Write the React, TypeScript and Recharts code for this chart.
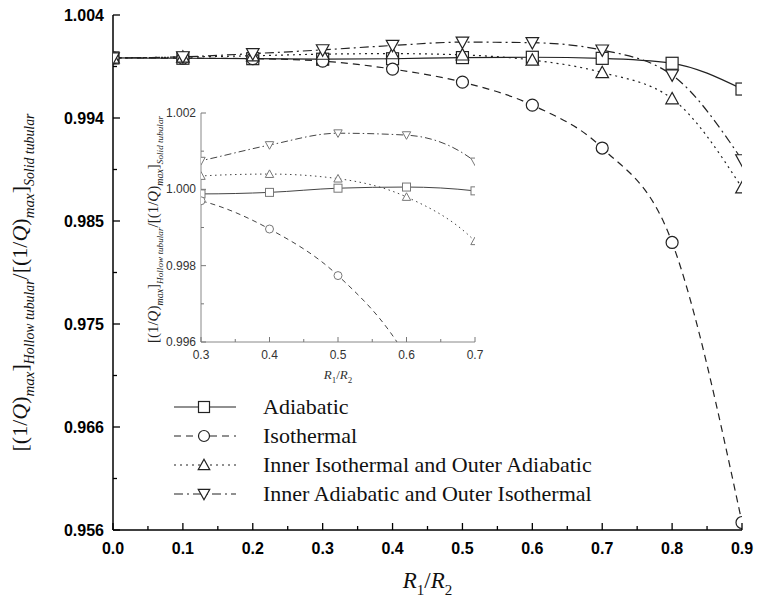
import React from 'react';
import { LineChart, Line, XAxis, YAxis, Legend, Label } from 'recharts';

const xValues = [0, 0.1, 0.2, 0.3, 0.4, 0.5, 0.6, 0.7, 0.8, 0.9];
const adiabatic = [1.0, 0.99997, 0.99993, 0.99988, 0.99992, 1.00003, 1.00006, 0.99996, 0.9995, 0.9971];
const isothermal = [1.0, 0.99998, 0.99993, 0.9997, 0.99896, 0.99774, 0.9956, 0.9916, 0.9828, 0.9567];
const innerIsoOuterAdi = [1.0, 1.00008, 1.0002, 1.00035, 1.0004, 1.00028, 0.9998, 0.99864, 0.9962, 0.9879];
const innerAdiOuterIso = [1.0, 1.0001, 1.0004, 1.00075, 1.00116, 1.00147, 1.00142, 1.00073, 0.9984, 0.9905];

const seriesNames = [
  'Adiabatic',
  'Isothermal',
  'Inner Isothermal and Outer Adiabatic',
  'Inner Adiabatic and Outer Isothermal',
];
const seriesKeys = ['a', 'iso', 'ii', 'ia'];
const seriesShapes = ['square', 'circle', 'up', 'down'];
const seriesDash = ['', '7 5', '2 4', '9 4 2 4'];
const insetDash = ['', '5 4', '1.5 3.5', '7 3 1.5 3'];

// main axis ticks
const xMajorTicks = [0, 0.1, 0.2, 0.3, 0.4, 0.5, 0.6, 0.7, 0.8, 0.9];
const xMinorTicks = [0.05, 0.15, 0.25, 0.35, 0.45, 0.55, 0.65, 0.75, 0.85];
const xTickLabels = ['0.0', '0.1', '0.2', '0.3', '0.4', '0.5', '0.6', '0.7', '0.8', '0.9'];
const yMajorTicks = [0.956, 0.9656, 0.9752, 0.9848, 0.9944, 1.004];
const yMinorTicks = [0.9608, 0.9704, 0.98, 0.9896, 0.9992];
const yTickLabels = ['0.956', '0.966', '0.975', '0.985', '0.994', '1.004'];

// inset axis ticks
const insetXMajor = [0.3, 0.4, 0.5, 0.6, 0.7];
const insetXMinor = [0.35, 0.45, 0.55, 0.65];
const insetXLabels = ['0.3', '0.4', '0.5', '0.6', '0.7'];
const insetYMajor = [0.996, 0.998, 1.0, 1.002];
const insetYMinor = [0.997, 0.999, 1.001];
const insetYLabels = ['0.996', '0.998', '1.000', '1.002'];

const rows = xValues.map((x, i) => ({
  x,
  a: adiabatic[i],
  iso: isothermal[i],
  ii: innerIsoOuterAdi[i],
  ia: innerAdiOuterIso[i],
}));

const SERIF = '"Liberation Serif", "Times New Roman", serif';
const SANS = '"Liberation Sans", Arial, sans-serif';

const near = (arr: number[], v: number) => arr.findIndex((t) => Math.abs(t - v) < 1e-7);

function Marker({ shape, cx, cy, s, stroke, sw }: any) {
  if (cx == null || cy == null) return null;
  const h = s / 2;
  if (shape === 'square')
    return <rect x={cx - h} y={cy - h} width={s} height={s} fill="#fff" stroke={stroke} strokeWidth={sw} />;
  if (shape === 'circle') return <circle cx={cx} cy={cy} r={h} fill="#fff" stroke={stroke} strokeWidth={sw} />;
  if (shape === 'up')
    return (
      <path
        d={`M${cx},${cy - h * 1.05} L${cx + h * 1.05},${cy + h * 0.85} L${cx - h * 1.05},${cy + h * 0.85} Z`}
        fill="#fff"
        stroke={stroke}
        strokeWidth={sw}
      />
    );
  return (
    <path
      d={`M${cx},${cy + h * 1.05} L${cx + h * 1.05},${cy - h * 0.85} L${cx - h * 1.05},${cy - h * 0.85} Z`}
      fill="#fff"
      stroke={stroke}
      strokeWidth={sw}
    />
  );
}

const makeDot = (shape: string, s: number, stroke: string, sw: number) => (p: any) =>
  <Marker key={`d-${shape}-${p.index}`} shape={shape} cx={p.cx} cy={p.cy} s={s} stroke={stroke} sw={sw} />;

// main ticks
const MainXTick = (p: any) => {
  const { x, y, payload } = p;
  const mi = near(xMajorTicks, payload.value);
  const major = mi >= 0;
  return (
    <g>
      <line x1={x} y1={y} x2={x} y2={y - (major ? 7 : 4)} stroke="#000" strokeWidth={1.3} />
      {major && (
        <text x={x} y={y + 24} textAnchor="middle" fontFamily={SANS} fontWeight="bold" fontSize={16} fill="#000">
          {xTickLabels[mi]}
        </text>
      )}
    </g>
  );
};

const MainYTick = (p: any) => {
  const { x, y, payload } = p;
  const mi = near(yMajorTicks, payload.value);
  const major = mi >= 0;
  return (
    <g>
      <line x1={x} y1={y} x2={x + (major ? 7 : 4)} y2={y} stroke="#000" strokeWidth={1.3} />
      {major && (
        <text x={x - 9} y={y + 6} textAnchor="end" fontFamily={SANS} fontWeight="bold" fontSize={16} fill="#000">
          {yTickLabels[mi]}
        </text>
      )}
    </g>
  );
};

const InsetXTick = (p: any) => {
  const { x, y, payload } = p;
  const mi = near(insetXMajor, payload.value);
  const major = mi >= 0;
  return (
    <g>
      <line x1={x} y1={y} x2={x} y2={y - (major ? 5 : 3)} stroke="#777" strokeWidth={1} />
      {major && (
        <text x={x} y={y + 17} textAnchor="middle" fontFamily={SANS} fontSize={12} fill="#333">
          {insetXLabels[mi]}
        </text>
      )}
    </g>
  );
};

const InsetYTick = (p: any) => {
  const { x, y, payload } = p;
  const mi = near(insetYMajor, payload.value);
  const major = mi >= 0;
  return (
    <g>
      <line x1={x} y1={y} x2={x + (major ? 5 : 3)} y2={y} stroke="#777" strokeWidth={1} />
      {major && (
        <text x={x - 5} y={y + 4} textAnchor="end" fontFamily={SANS} fontSize={12} fill="#333">
          {insetYLabels[mi]}
        </text>
      )}
    </g>
  );
};

function YTitle({ cx, cy, big, sub, color }: any) {
  const d = big * 0.3;
  return (
    <text
      x={cx}
      y={cy}
      transform={`rotate(-90, ${cx}, ${cy})`}
      textAnchor="middle"
      fontFamily={SERIF}
      fontSize={big}
      fill={color}
    >
      <tspan>[(1/</tspan>
      <tspan fontStyle="italic">Q</tspan>
      <tspan>)</tspan>
      <tspan fontStyle="italic" fontSize={sub} dy={d}>max</tspan>
      <tspan dy={-d}>]</tspan>
      <tspan fontStyle="italic" fontSize={sub * 0.92} dy={d}>Hollow tubular</tspan>
      <tspan dy={-d}>/[(1/</tspan>
      <tspan fontStyle="italic">Q</tspan>
      <tspan>)</tspan>
      <tspan fontStyle="italic" fontSize={sub} dy={d}>max</tspan>
      <tspan dy={-d}>]</tspan>
      <tspan fontStyle="italic" fontSize={sub * 0.92} dy={d}>Solid tubular</tspan>
    </text>
  );
}

function XTitle({ cx, y, big, sub, color }: any) {
  const d = big * 0.3;
  return (
    <text x={cx} y={y} textAnchor="middle" fontFamily={SERIF} fontSize={big} fill={color}>
      <tspan fontStyle="italic">R</tspan>
      <tspan fontSize={sub} dy={d}>1</tspan>
      <tspan dy={-d}>/</tspan>
      <tspan fontStyle="italic">R</tspan>
      <tspan fontSize={sub} dy={d}>2</tspan>
    </text>
  );
}

const LegendContent = () => (
  <div style={{ fontFamily: SERIF, fontSize: 22, color: '#111' }}>
    {seriesNames.map((name, i) => (
      <div key={name} style={{ display: 'flex', alignItems: 'center', height: 29 }}>
        <svg width={90} height={24} style={{ display: 'block' }}>
          <line x1={1} y1={12} x2={63} y2={12} stroke="#222" strokeWidth={1.2} strokeDasharray={seriesDash[i] || undefined} />
          <Marker shape={seriesShapes[i]} cx={31} cy={12} s={11} stroke="#222" sw={1.2} />
        </svg>
        <span style={{ marginLeft: 0 }}>{name}</span>
      </div>
    ))}
  </div>
);

export default function App() {
  return (
    <div style={{ position: 'absolute', left: 0, top: 0, width: 759, height: 609, background: '#fff' }}>
      <LineChart width={759} height={609} data={rows} margin={{ top: 15, right: 17, bottom: 0, left: 0 }}>
        <XAxis
          dataKey="x"
          type="number"
          domain={[0, 0.9]}
          ticks={[...xMajorTicks, ...xMinorTicks].sort((a, b) => a - b)}
          interval={0}
          height={79}
          tickSize={0}
          tickMargin={0}
          tickLine={false}
          tick={MainXTick}
          axisLine={{ stroke: '#000', strokeWidth: 1.5 }}
          allowDataOverflow
        >
          <Label content={(p: any) => <XTitle cx={p.viewBox.x + p.viewBox.width / 2} y={p.viewBox.y + 58} big={23} sub={15} color="#111" />} />
        </XAxis>
        <XAxis
          xAxisId="top"
          orientation="top"
          type="number"
          domain={[0, 0.9]}
          height={0}
          tick={false}
          tickLine={false}
          axisLine={{ stroke: '#000', strokeWidth: 1.5 }}
        />
        <YAxis
          type="number"
          domain={[0.956, 1.004]}
          ticks={[...yMajorTicks, ...yMinorTicks].sort((a, b) => a - b)}
          interval={0}
          width={113}
          tickSize={0}
          tickMargin={0}
          tickLine={false}
          tick={MainYTick}
          axisLine={{ stroke: '#000', strokeWidth: 1.5 }}
          allowDataOverflow
        >
          <Label
            content={(p: any) => (
              <YTitle cx={p.viewBox.x + 27} cy={p.viewBox.y + p.viewBox.height / 2 + 10} big={22} sub={15} color="#111" />
            )}
          />
        </YAxis>
        <YAxis
          yAxisId="right"
          orientation="right"
          type="number"
          domain={[0.956, 1.004]}
          width={0}
          tick={false}
          tickLine={false}
          axisLine={{ stroke: '#000', strokeWidth: 1.5 }}
        />
        <Legend
          layout="vertical"
          align="center"
          verticalAlign="middle"
          content={LegendContent}
          wrapperStyle={{ position: 'absolute', left: 173, top: 392, width: 500 }}
        />
        {seriesKeys.map((k, i) => (
          <Line
            key={k}
            dataKey={k}
            name={seriesNames[i]}
            type="monotone"
            stroke="#222"
            strokeWidth={1.2}
            strokeDasharray={seriesDash[i] || undefined}
            dot={makeDot(seriesShapes[i], 12, '#222', 1.2)}
            activeDot={false}
            isAnimationActive={false}
          />
        ))}
      </LineChart>

      <div style={{ position: 'absolute', left: 140, top: 95 }}>
        <LineChart width={345} height={300} data={rows} margin={{ top: 18, right: 10, bottom: 0, left: 0 }}>
          <XAxis
            dataKey="x"
            type="number"
            domain={[0.3, 0.7]}
            ticks={[...insetXMajor, ...insetXMinor].sort((a, b) => a - b)}
            interval={0}
            height={53}
            tickSize={0}
            tickMargin={0}
            tickLine={false}
            tick={InsetXTick}
            axisLine={{ stroke: '#888', strokeWidth: 1 }}
            allowDataOverflow
          >
            <Label content={(p: any) => <XTitle cx={p.viewBox.x + p.viewBox.width / 2} y={p.viewBox.y + 37} big={13} sub={9} color="#333" />} />
          </XAxis>
          <XAxis
            xAxisId="top"
            orientation="top"
            type="number"
            domain={[0.3, 0.7]}
            height={0}
            tick={false}
            tickLine={false}
            axisLine={{ stroke: '#888', strokeWidth: 1 }}
          />
          <YAxis
            type="number"
            domain={[0.996, 1.002]}
            ticks={[...insetYMajor, ...insetYMinor].sort((a, b) => a - b)}
            interval={0}
            width={61}
            tickSize={0}
            tickMargin={0}
            tickLine={false}
            tick={InsetYTick}
            axisLine={{ stroke: '#888', strokeWidth: 1 }}
            allowDataOverflow
          >
            <Label
              content={(p: any) => (
                <YTitle cx={p.viewBox.x + 18} cy={p.viewBox.y + p.viewBox.height / 2 + 2} big={15} sub={10} color="#222" />
              )}
            />
          </YAxis>
          <YAxis
            yAxisId="right"
            orientation="right"
            type="number"
            domain={[0.996, 1.002]}
            width={0}
            tick={false}
            tickLine={false}
            axisLine={{ stroke: '#888', strokeWidth: 1 }}
          />
          {seriesKeys.map((k, i) => (
            <Line
              key={k}
              dataKey={k}
              name={seriesNames[i]}
              type="monotone"
              stroke="#444"
              strokeWidth={1}
              strokeDasharray={insetDash[i] || undefined}
              dot={makeDot(seriesShapes[i], 8, '#777', 1)}
              activeDot={false}
              isAnimationActive={false}
            />
          ))}
        </LineChart>
      </div>
    </div>
  );
}
